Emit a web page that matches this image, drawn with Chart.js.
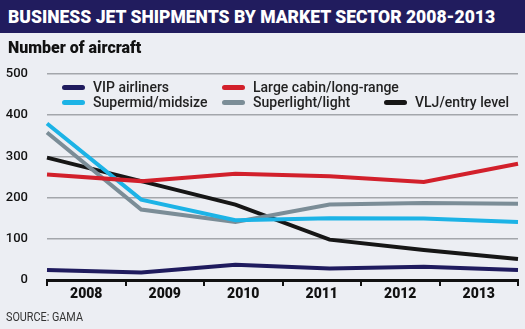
<!DOCTYPE html>
<html>
<head>
<meta charset="utf-8">
<script src="https://cdn.jsdelivr.net/npm/chart.js@4"></script>
<style>
  html, body { margin: 0; padding: 0; }
  body { width: 525px; height: 329px; background: #eceef3; position: relative; overflow: hidden; font-family: "Liberation Sans", Arial, sans-serif; }
  #title-bar { position: absolute; left: 0; top: 0; width: 525px; height: 33px; background: #211c5e; }
  #title { position: absolute; left: 8px; top: 6px; color: #fff; font: 900 18px "Roboto", "Liberation Sans", sans-serif; white-space: nowrap; transform-origin: left top; }
  #ylabel { position: absolute; left: 8px; top: 38px; font: 900 16px "Roboto", "Liberation Sans", sans-serif; color: #111; transform-origin: left top; }
  #source { position: absolute; left: 6px; top: 310px; font: 12px "Roboto", "Liberation Sans", sans-serif; color: #333; transform-origin: left top; transform: scaleX(0.9); }
  #wrap { position: absolute; left: 0; top: 0; width: 525px; height: 329px; }
  .lg { position: absolute; font: 500 14px "Roboto", "Liberation Sans", sans-serif; color: #222; white-space: nowrap; line-height: 16px; }
  .lg i { display: inline-block; width: 23px; height: 5px; border-radius: 3px; vertical-align: middle; margin-right: 8px; position: relative; top: -1px; }
</style>
</head>
<body>
<div id="wrap"><canvas id="chart" width="525" height="329"></canvas></div>
<div id="title-bar"><span id="title">BUSINESS JET SHIPMENTS BY MARKET SECTOR 2008-2013</span></div>
<div id="ylabel">Number of aircraft</div>
<div id="legend"></div>
<div id="source">SOURCE: GAMA</div>
<script>
// --- Data ---
const years = ["2008", "2009", "2010", "2011", "2012", "2013"];
const yTicks = [0, 100, 200, 300, 400, 500];

const vipAirliners = [24, 18, 37, 28, 32, 24];
const largeCabin = [256, 240, 258, 252, 238, 282];
const supermid = [380, 195, 145, 150, 149, 141];
const superlight = [358, 171, 141, 183, 187, 185];
const vljEntry = [297, 240, 183, 98, 73, 51];

const series = [
    { label: "VIP airliners", data: vipAirliners, color: "#1f1b5e" },
    { label: "Large cabin/long-range", data: largeCabin, color: "#d2202b" },
    { label: "Supermid/midsize", data: supermid, color: "#1cb3e6" },
    { label: "Superlight/light", data: superlight, color: "#7b8d97" },
    { label: "VLJ/entry level", data: vljEntry, color: "#161616" },
];

// fit title and axis label to the reference widths
const title = document.getElementById("title");
title.style.transform = `scaleX(${487 / title.offsetWidth})`;
const ylabel = document.getElementById("ylabel");
ylabel.style.transform = `scaleX(${133 / ylabel.offsetWidth})`;

// --- Legend (3 columns, as in the reference) ---
const legendPos = [
    [62, 79], [222, 79],
    [62, 94], [222, 94], [384, 94],
];
const legend = document.getElementById("legend");
series.forEach((s, i) => {
    const el = document.createElement("div");
    el.className = "lg";
    el.style.left = legendPos[i][0] + "px";
    el.style.top = legendPos[i][1] + "px";
    el.innerHTML = `<i style="background:${s.color}"></i>${s.label}`;
    legend.appendChild(el);
});

// --- Chart ---
const ctx = document.getElementById("chart").getContext("2d");
new Chart(ctx, {
    type: "line",
    data: {
        labels: years,
        datasets: series.map(s => ({
            label: s.label,
            data: s.data,
            borderColor: s.color,
            borderWidth: 4,
            pointRadius: 0,
            tension: 0,
            fill: false,
            xAxisID: "x",
        }))
    },
    options: {
        responsive: false,
        animation: false,
        layout: { padding: { top: 74, right: 7, left: 0, bottom: 0 } },
        plugins: { legend: { display: false }, tooltip: { enabled: false } },
        scales: {
            x: { type: "category", display: false, offset: false },
            xLabels: {
                type: "category",
                position: "bottom",
                offset: true,
                grid: { drawOnChartArea: false, color: "#111", lineWidth: 2, tickLength: 6, offset: true },
                border: { color: "#111", width: 3 },
                ticks: { color: "#111", font: { family: "Roboto", weight: "900", size: 14 }, padding: 0 },
                afterFit: scale => { scale.height = 49; },
            },
            y: {
                min: 0, max: 500,
                afterBuildTicks: scale => { scale.ticks = yTicks.map(v => ({ value: v })); },
                grid: { color: "#a3a6ab", lineWidth: 1.5, drawTicks: false },
                border: { display: false },
                ticks: { color: "#111", font: { family: "Roboto", weight: "500", size: 13 }, padding: 19 },
                afterFit: scale => { scale.width = 47; },
            }
        }
    }
});
</script>
</body>
</html>
